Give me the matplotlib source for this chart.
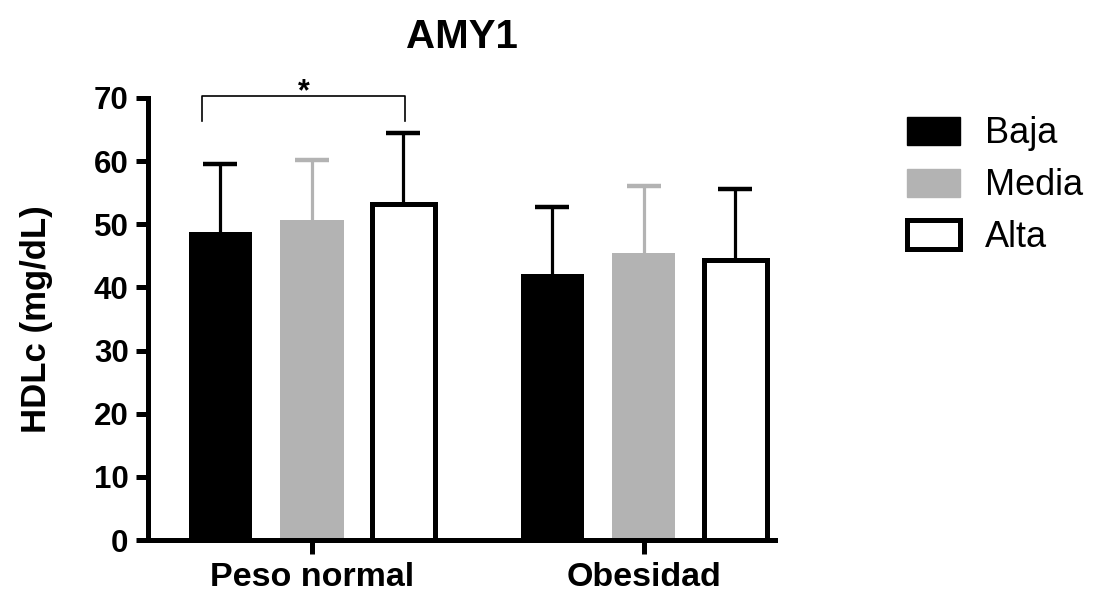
import numpy as np
import matplotlib
matplotlib.use('Agg')
import matplotlib.pyplot as plt
from matplotlib.patches import Patch

plt.rcParams['font.family'] = ['Liberation Sans', 'DejaVu Sans']

# datos
grupos = ['Peso normal', 'Obesidad']
series = ['Baja', 'Media', 'Alta']
baja = [48.8, 42.2]
baja_err = [10.7, 10.5]
media = [50.6, 45.4]
media_err = [9.6, 10.6]
alta = [53.2, 44.4]
alta_err = [11.3, 11.2]

gris = '#b3b3b3'

fig = plt.figure(figsize=(10.98, 5.94), dpi=100)
W, H = 1098, 594
ax = fig.add_axes([148 / W, (H - 540) / H, (775 - 148) / W, (540 - 98) / H])

x = np.arange(len(grupos))
paso = 0.2756
ancho = 0.19

estilos = [
    dict(valores=baja, err=baja_err, color='black', edge='black', lw=0, ecolor='black'),
    dict(valores=media, err=media_err, color=gris, edge=gris, lw=0, ecolor=gris),
    dict(valores=alta, err=alta_err, color='white', edge='black', lw=3.6, ecolor='black'),
]

for i, est in enumerate(estilos):
    pos = x + (i - 1) * paso
    eb = ax.errorbar(pos, est['valores'], yerr=[np.zeros(len(pos)), est['err']],
                     fmt='none', ecolor=est['ecolor'], elinewidth=2.3, capsize=12,
                     capthick=3.2, zorder=1)
    # solo la barra de error superior
    eb[1][0].set_visible(False)
    ax.bar(pos, est['valores'], width=ancho, color=est['color'],
           edgecolor=est['edge'], linewidth=est['lw'], zorder=2)

# corchete de significancia
bx0, bx1 = -0.331, 0.280
ax.plot([bx0, bx0, bx1, bx1], [66.3, 70.3, 70.3, 66.3], color='black',
        lw=1.2, clip_on=False, zorder=3)
ax.text((bx0 + bx1) / 2, 68.6, '*', ha='center', va='bottom', fontsize=22,
        fontweight='bold')

ax.set_ylim(0, 70)
ax.set_xlim(-0.494, 1.395)
ax.set_yticks(np.arange(0, 71, 10))
ax.set_xticks(x)
ax.set_xticklabels(grupos, fontsize=24.5, fontweight='bold')
for lab in ax.get_yticklabels():
    lab.set_fontsize(22.5)
    lab.set_fontweight('bold')

for s in ['top', 'right']:
    ax.spines[s].set_visible(False)
for s in ['left', 'bottom']:
    ax.spines[s].set_linewidth(3.6)
ax.tick_params(axis='y', length=9, width=3.6, pad=5)
ax.tick_params(axis='x', length=10, width=3.6, pad=6)

ax.set_ylabel('HDLc (mg/dL)', fontsize=25, fontweight='bold', labelpad=29)
ax.set_title('AMY1', fontsize=29, fontweight='bold', pad=36)

handles = [
    Patch(facecolor='black', edgecolor='black', label='Baja'),
    Patch(facecolor=gris, edgecolor=gris, label='Media'),
    Patch(facecolor='white', edgecolor='black', linewidth=3.6, label='Alta'),
]
fig.legend(handles=handles, loc='upper left', bbox_to_anchor=(893 / W, 1 - 102 / H),
           frameon=False, fontsize=26, handlelength=1.45, handleheight=0.85,
           labelspacing=0.47, handletextpad=0.7, borderaxespad=0)

fig.savefig('out.png', dpi=100)
